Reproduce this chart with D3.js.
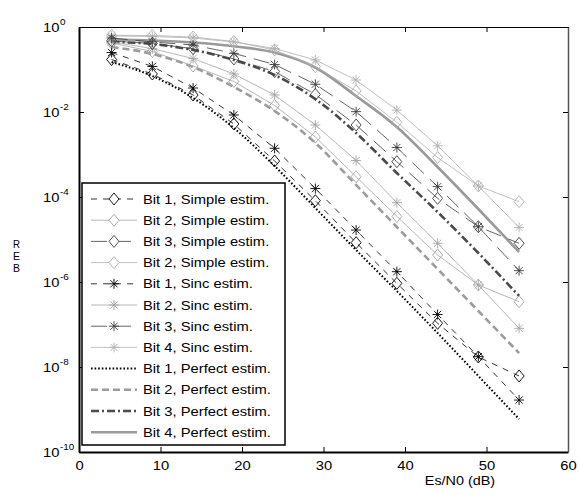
<!DOCTYPE html>
<html>
<head>
<meta charset="utf-8">
<script src="https://cdn.jsdelivr.net/npm/d3@7"></script>
<style>
    body { margin: 0; background: #fff; }
    text { font-family: "Liberation Sans", Arial, sans-serif; fill: #000; }
</style>
</head>
<body>
<svg id="chart" width="579" height="495"></svg>
<script>
// Es/N0 points (dB)
var snr = [4, 9, 14, 19, 24, 29, 34, 39, 44, 49, 54];

// BER, simple estimation
var bit1Simple = [0.172, 0.0784, 0.0251, 5.22e-3, 7.03e-4, 8.18e-5, 8.41e-6, 9.31e-7, 1.07e-7, 1.72e-8, 6.14e-9];
var bit2Simple = [0.42, 0.265, 0.121, 0.0522, 0.0142, 2.58e-3, 3.0e-4, 3.48e-5, 4.32e-6, 8.5e-7, 3.44e-7];
var bit3Simple = [0.47, 0.409, 0.309, 0.177, 0.0897, 0.0258, 4.95e-3, 6.77e-4, 9.3e-5, 2.0e-5, 8.14e-6];
var bit4Simple = [0.638, 0.631, 0.582, 0.456, 0.288, 0.116, 0.0312, 5.72e-3, 8.5e-4, 1.82e-4, 7.75e-5];

// BER, sinc estimation
var bit1Sinc = [0.251, 0.118, 0.0367, 8.5e-3, 1.4e-3, 1.58e-4, 1.67e-5, 1.75e-6, 1.72e-7, 1.75e-8, 1.67e-9];
var bit2Sinc = [0.45, 0.309, 0.1815, 0.0784, 0.0251, 4.95e-3, 7.22e-4, 7.35e-5, 8.14e-6, 8.5e-7, 8.14e-8];
var bit3Sinc = [0.551, 0.444, 0.377, 0.24, 0.131, 0.0449, 0.0102, 1.46e-3, 1.75e-4, 2.0e-5, 1.85e-6];
var bit4Sinc = [0.614, 0.598, 0.551, 0.444, 0.312, 0.1675, 0.0566, 0.0111, 1.6e-3, 1.82e-4, 1.92e-5];

// BER, perfect estimation
var bit1Perfect = [0.15, 0.0703, 0.0214, 4.2e-3, 5.36e-4, 5.51e-5, 5.66e-6, 6.14e-7, 6.31e-8, 6.14e-9, 5.98e-10];
var bit2Perfect = [0.338, 0.232, 0.1145, 0.0388, 0.01056, 1.87e-3, 1.92e-4, 1.97e-5, 2.02e-6, 2.08e-7, 2.13e-8];
var bit3Perfect = [0.444, 0.398, 0.288, 0.1675, 0.0743, 0.0202, 3.21e-3, 3.67e-4, 4.44e-5, 4.81e-6, 4.69e-7];
var bit4Perfect = [0.508, 0.481, 0.432, 0.352, 0.251, 0.1115, 0.0238, 4.44e-3, 5.08e-4, 5.22e-5, 5.08e-6];

var legendLabels = [
    'Bit 1, Simple estim.', 'Bit 2, Simple estim.', 'Bit 3, Simple estim.', 'Bit 2, Simple estim.',
    'Bit 1, Sinc estim.', 'Bit 2, Sinc estim.', 'Bit 3, Sinc estim.', 'Bit 4, Sinc estim.',
    'Bit 1, Perfect estim.', 'Bit 2, Perfect estim.', 'Bit 3, Perfect estim.', 'Bit 4, Perfect estim.'
];
var xTicks = [0, 10, 20, 30, 40, 50, 60];
var yTickExp = [0, -2, -4, -6, -8, -10];
var xTitle = 'Es/N0 (dB)';
var yTitle = 'BER';

// styles, one per legend row
var series = [
    { values: bit1Simple, color: '#000', width: 0.8, dash: '6,6', marker: 'diamond' },
    { values: bit2Simple, color: '#a4a4a4', width: 0.8, dash: null, marker: 'diamond' },
    { values: bit3Simple, color: '#3c3c3c', width: 0.8, dash: '16,8', marker: 'diamond' },
    { values: bit4Simple, color: '#b0b0b0', width: 0.8, dash: null, marker: 'diamond' },
    { values: bit1Sinc, color: '#000', width: 0.8, dash: '6,6', marker: 'star' },
    { values: bit2Sinc, color: '#a4a4a4', width: 0.8, dash: null, marker: 'star' },
    { values: bit3Sinc, color: '#3c3c3c', width: 0.8, dash: '16,8', marker: 'star' },
    { values: bit4Sinc, color: '#b0b0b0', width: 0.8, dash: null, marker: 'star' },
    { values: bit1Perfect, color: '#000', width: 2, dash: '1.6,2', marker: null },
    { values: bit2Perfect, color: '#9c9c9c', width: 2.6, dash: '7,4', marker: null },
    { values: bit3Perfect, color: '#4a4a4a', width: 2.6, dash: '8,3,2,3', marker: null },
    { values: bit4Perfect, color: '#9a9a9a', width: 2.6, dash: null, marker: null }
];

var margin = { left: 79, right: 11, top: 27, bottom: 43 },
    width = 579, height = 495;

var svg = d3.select('#chart');

var x = d3.scaleLinear().domain([0, 60]).range([margin.left, width - margin.right]);
var y = d3.scaleLog().domain([1e-10, 1]).range([height - margin.bottom, margin.top]);

// stretch text a bit wider, like the original export
function stretch(sel, k) {
    sel.each(function () {
        var w = this.getComputedTextLength();
        d3.select(this).attr('textLength', w * k).attr('lengthAdjust', 'spacingAndGlyphs');
    });
}

function markerPath(type, cx, cy) {
    if (type === 'diamond') {
        return 'M' + cx + ',' + (cy - 6) + 'L' + (cx + 5) + ',' + cy + 'L' + cx + ',' + (cy + 6) + 'L' + (cx - 5) + ',' + cy + 'Z';
    }
    return 'M' + (cx - 5) + ',' + cy + 'H' + (cx + 5) +
        'M' + cx + ',' + (cy - 5) + 'V' + (cy + 5) +
        'M' + (cx - 3.6) + ',' + (cy - 3.6) + 'L' + (cx + 3.6) + ',' + (cy + 3.6) +
        'M' + (cx - 3.6) + ',' + (cy + 3.6) + 'L' + (cx + 3.6) + ',' + (cy - 3.6);
}

// axes
var yTickValues = yTickExp.map(function (e) { return Math.pow(10, e); });

svg.append('g')
    .attr('transform', 'translate(0,' + y.range()[0] + ')')
    .call(d3.axisBottom(x).tickValues(xTicks).tickSizeInner(-5).tickSizeOuter(0).tickPadding(9))
    .call(function (g) {
        g.select('.domain').attr('stroke-width', 2);
        g.selectAll('text').attr('font-size', 12.5).attr('font-family', '"Liberation Sans", Arial, sans-serif').attr('fill', '#000');
        stretch(g.selectAll('text'), 1.18);
    });

svg.append('g')
    .attr('transform', 'translate(0,' + y.range()[1] + ')')
    .call(d3.axisTop(x).tickValues(xTicks).tickSizeInner(-5).tickSizeOuter(0).tickFormat(''))
    .call(function (g) { g.select('.domain').attr('stroke-width', 1.2); });

svg.append('g')
    .attr('transform', 'translate(' + x.range()[0] + ',0)')
    .call(d3.axisLeft(y).tickValues(yTickValues).tickSizeInner(-5).tickSizeOuter(0).tickFormat(''))
    .call(function (g) { g.select('.domain').attr('stroke-width', 2); });

svg.append('g')
    .attr('transform', 'translate(' + x.range()[1] + ',0)')
    .call(d3.axisRight(y).tickValues(yTickValues).tickSizeInner(-5).tickSizeOuter(0).tickFormat(''))
    .call(function (g) { g.select('.domain').attr('stroke', '#555').attr('stroke-width', 1.5); });

// y tick labels 10^e
var yLab = svg.append('g');
yTickExp.forEach(function (e) {
    var ty = y(Math.pow(10, e));
    var base = yLab.append('text').attr('x', 43).attr('y', ty + 4.7).attr('font-size', 12.5).text('10');
    stretch(base, 1.18);
    var sup = yLab.append('text').attr('x', 60).attr('y', ty - 2.5).attr('font-size', 9).text(String(e));
    stretch(sup, 1.1);
});

// axis titles
var xt = svg.append('text')
    .attr('x', 460).attr('y', 485)
    .attr('text-anchor', 'middle')
    .attr('font-size', 12.5)
    .text(xTitle);
stretch(xt, 1.15);

// y title drawn as stacked letters (reads bottom-up like the reference)
yTitle.split('').reverse().forEach(function (ch, i) {
    svg.append('text')
        .attr('x', 16.5).attr('y', 247.5 + i * 12.2)
        .attr('text-anchor', 'middle')
        .attr('font-size', 10.5)
        .attr('textLength', 7).attr('lengthAdjust', 'spacingAndGlyphs')
        .text(ch);
});

// curves
var plot = svg.append('g');
var line = d3.line().x(function (d) { return x(d[0]); }).y(function (d) { return y(d[1]); });
var smooth = d3.line().x(function (d) { return x(d[0]); }).y(function (d) { return y(d[1]); }).curve(d3.curveMonotoneX);

// perfect curves first, then estimated ones on top
var order = [11, 10, 9, 8, 3, 1, 7, 5, 2, 6, 0, 4];
order.forEach(function (i) {
    var s = series[i];
    var pts = snr.map(function (v, j) { return [v, s.values[j]]; });
    plot.append('path')
        .attr('d', s.marker ? line(pts) : smooth(pts))
        .attr('fill', 'none')
        .attr('stroke', s.color)
        .attr('stroke-width', s.width)
        .attr('stroke-dasharray', s.dash);
    if (s.marker) {
        plot.selectAll(null)
            .data(pts)
            .enter()
            .append('path')
            .attr('d', function (d) { return markerPath(s.marker, x(d[0]), y(d[1])); })
            .attr('fill', 'none')
            .attr('stroke', s.color)
            .attr('stroke-width', 0.9);
    }
});

// legend
var legend = svg.append('g');
legend.append('rect')
    .attr('x', 82).attr('y', 183)
    .attr('width', 203).attr('height', 262)
    .attr('fill', '#fff')
    .attr('stroke', '#000')
    .attr('stroke-width', 1.5);

series.forEach(function (s, i) {
    var ry = 199 + i * 21.2;
    legend.append('line')
        .attr('x1', 91).attr('x2', 137)
        .attr('y1', ry).attr('y2', ry)
        .attr('stroke', s.color)
        .attr('stroke-width', s.width)
        .attr('stroke-dasharray', s.dash);
    if (s.marker) {
        legend.append('path')
            .attr('d', markerPath(s.marker, 114, ry))
            .attr('fill', s.marker === 'diamond' ? '#fff' : 'none')
            .attr('stroke', s.color)
            .attr('stroke-width', 0.9);
    }
    var t = legend.append('text')
        .attr('x', 143).attr('y', ry + 4.5)
        .attr('font-size', 12.5)
        .text(legendLabels[i]);
    stretch(t, 1.18);
});
</script>
</body>
</html>
